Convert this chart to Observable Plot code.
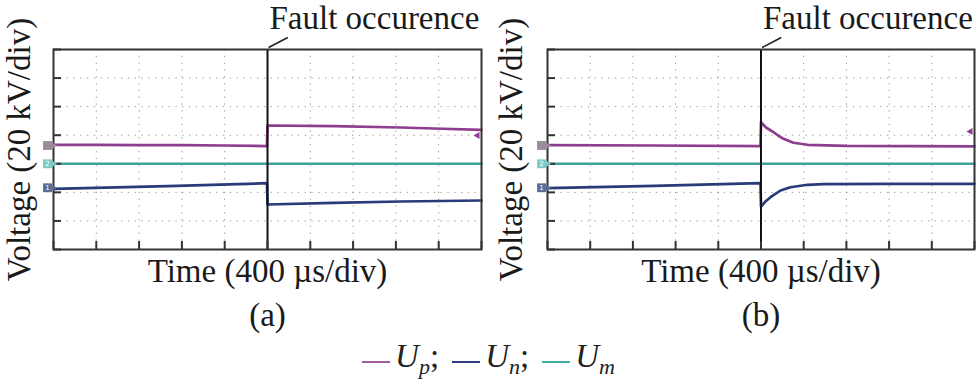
<!DOCTYPE html>
<html><head><meta charset="utf-8">
<script src="https://cdn.jsdelivr.net/npm/d3@7"></script>
<script src="https://cdn.jsdelivr.net/npm/@observablehq/plot@0.6"></script>
<style>
body{margin:0;background:#fff;}
#wrap{position:relative;width:976px;height:382px;overflow:hidden;font-family:"Liberation Serif","Times New Roman",serif;color:#222;}
#pa,#pb{position:absolute;top:0;}
#pa{left:0}#pb{left:488px}
#legend{position:absolute;top:337px;left:0;width:976px;display:flex;justify-content:center;align-items:center;font-size:33px;line-height:38px;padding-left:14px;box-sizing:border-box;}
#legend .ln{display:inline-block;width:28px;height:0;border-top:2px solid;margin:0 5px 0 0;position:relative;top:-4px;}
#legend .it{font-style:italic;}
#legend sub{font-size:22px;font-style:italic;vertical-align:-7px;line-height:0;}
#legend .item{margin-right:13px;}
</style></head><body>
<div id="wrap"><div id="pa"></div><div id="pb"></div><div id="legend"></div></div>
<script>
// ---- axes / ticks (time in µs, voltage in kV; 400 µs/div, 20 kV/div) ----
const xTicks = [0, 400, 800, 1200, 1600, 2000, 2400, 2800, 3200, 3600, 4000];
const yTicks = [-60, -40, -20, 0, 20, 40, 60, 80];
const faultTime = 2000;

// ---- panel (a) ----
const aUpT = [0, 400, 800, 1200, 1600, 1995, 2000, 2617, 3243, 3551, 4000];
const aUpV = [13.3, 13.2, 13.1, 13.0, 12.8, 12.4, 26.8, 26.3, 25.4, 24.7, 23.8];
const aUnT = [0, 1065, 1995, 2000, 2617, 3243, 4000];
const aUnV = [-17.5, -15.7, -13.6, -28.5, -27.3, -26.4, -25.7];
const aUmT = [0, 4000];
const aUmV = [0, 0];

// ---- panel (b) ----
const bUpT = [0, 1000, 1995, 2000, 2047, 2117, 2160, 2211, 2304, 2436, 2800, 4000];
const bUpV = [13.0, 12.8, 12.3, 29.1, 25.4, 22.1, 19.8, 17.5, 14.7, 13.3, 12.5, 12.2];
const bUnT = [0, 1000, 1995, 2000, 2047, 2089, 2183, 2276, 2436, 2585, 3200, 4000];
const bUnV = [-17.1, -15.4, -13.6, -29.9, -26.0, -23.4, -18.7, -16.4, -14.7, -14.3, -14.1, -14.0];
const bUmT = [0, 4000];
const bUmV = [0, 0];

// ---- channel markers (left) & trigger markers (right) ----
const markerLabels = ["", "2", "1"];
const markerV = [12.8, 0, -16.8];
const markerFill = ["#9b8b9d", "#7ccac5", "#5b6e98"];
const trigV = {a: 19.8, b: 22.6};

// ---- annotation ----
const leaderT = [2010, 2190];
const leaderV = [81.4, 88.4];

// ---- series styling ----
const seriesNames = ["Up", "Un", "Um"];
const seriesColors = ["#8e3e8f", "#2b3a7a", "#3ea39a"];
const legendColors = ["#a35ea3", "#2c3e80", "#40aea5"];
const legendSubs = ["p", "n", "m"];

const serif = "Liberation Serif, Times New Roman, serif";
const zip = (T, V) => T.map((t, i) => ({t, v: V[i]}));

function panel({up, un, um, letter, marginLeft, marginRight, ylabDx, trig}) {
  const markers = markerV.map((v, i) => ({t: 0, v, lab: markerLabels[i], fill: markerFill[i]}));
  const txt = (s, o) => Plot.text([s], {text: d => d, fontFamily: serif, fill: "#1a1a1a", fontSize: 33, ...o});
  return Plot.plot({
    width: 488, height: 340,
    marginLeft, marginRight, marginTop: 49, marginBottom: 91,
    x: {domain: [0, 4000], label: null},
    y: {domain: [-60, 80], label: null},
    style: {fontFamily: serif, background: "transparent", overflow: "visible"},
    marks: [
      Plot.gridX(xTicks, {stroke: "#8c8c8c", strokeOpacity: 0.9, strokeDasharray: "1.3,5.5"}),
      Plot.gridY(yTicks, {stroke: "#8c8c8c", strokeOpacity: 0.9, strokeDasharray: "1.3,5.5"}),
      Plot.line(um, {x: "t", y: "v", stroke: seriesColors[2], strokeWidth: 2.4}),
      Plot.line(up, {x: "t", y: "v", stroke: seriesColors[0], strokeWidth: 2.7}),
      Plot.line(un, {x: "t", y: "v", stroke: seriesColors[1], strokeWidth: 2.7}),
      Plot.ruleX([faultTime], {stroke: "#111", strokeWidth: 2}),
      Plot.frame({stroke: "#333", strokeWidth: 2}),
      Plot.axisX(xTicks, {anchor: "bottom", tickSize: -8, tickFormat: () => "", stroke: "#333", strokeWidth: 2, label: null}),
      Plot.axisY(yTicks, {anchor: "left", tickSize: -8, tickFormat: () => "", stroke: "#333", strokeWidth: 2, label: null}),
      Plot.dot(markers, {x: "t", y: "v", symbol: "square", r: 5, fill: "fill", dx: -6}),
      Plot.dot(markers, {x: "t", y: "v", symbol: "triangle", r: 3, fill: "fill", rotate: 90, dx: -1}),
      Plot.text(markers, {x: "t", y: "v", text: "lab", fill: "white", fontSize: 7, dx: -6, fontFamily: "DejaVu Sans"}),
      Plot.dot([{t: 4000, v: trig}], {x: "t", y: "v", symbol: "triangle", r: 2.6, fill: seriesColors[0], rotate: -90, dx: -4}),
      Plot.link([0], {x1: () => leaderT[0], y1: () => leaderV[0], x2: () => leaderT[1], y2: () => leaderV[1], stroke: "#222", strokeWidth: 1.6}),
      Plot.text([faultTime], {x: d => d, y: () => 80, text: () => "Fault occurence", textAnchor: "start", dx: 2, dy: -31, fontSize: 33, fontFamily: serif, fill: "#1a1a1a"}),
      txt("Voltage (20 kV/div)", {frameAnchor: "left", textAnchor: "middle", rotate: -90, dx: ylabDx}),
      txt("Time (400 µs/div)", {frameAnchor: "bottom", textAnchor: "middle", dy: 32}),
      txt(`(${letter})`, {frameAnchor: "bottom", textAnchor: "middle", dy: 76})
    ]
  });
}

document.getElementById("pa").append(panel({
  up: zip(aUpT, aUpV), un: zip(aUnT, aUnV), um: zip(aUmT, aUmV),
  letter: "a", marginLeft: 53, marginRight: 7, ylabDx: -34, trig: trigV.a
}));
document.getElementById("pb").append(panel({
  up: zip(bUpT, bUpV), un: zip(bUnT, bUnV), um: zip(bUmT, bUmV),
  letter: "b", marginLeft: 59, marginRight: 2, ylabDx: -36, trig: trigV.b
}));

// ---- legend ----
const leg = document.getElementById("legend");
seriesNames.forEach((n, i) => {
  const s = document.createElement("span");
  s.className = "item";
  s.innerHTML = `<span class="ln" style="border-color:${legendColors[i]}"></span><span class="it">U</span><sub>${legendSubs[i]}</sub>${i < 2 ? ";" : ""}`;
  leg.append(s);
});
</script>
</body></html>
